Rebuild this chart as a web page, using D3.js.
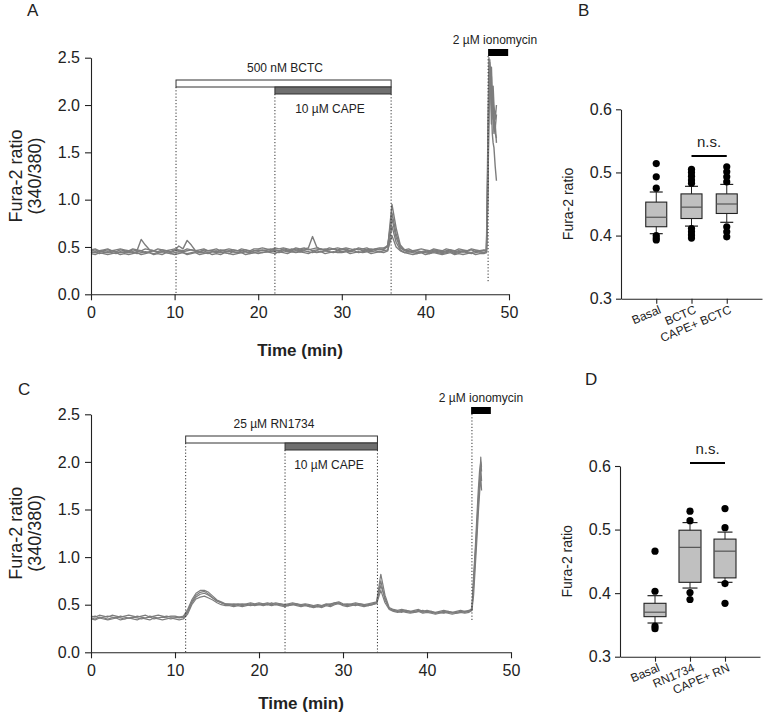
<!DOCTYPE html>
<html><head><meta charset="utf-8">
<script src="https://cdn.jsdelivr.net/npm/d3@7"></script>
<style>
body{margin:0;background:#fff;}
svg{display:block;font-family:Arial,"Liberation Sans",sans-serif;}
</style></head>
<body><svg id="c" width="764" height="713"></svg>
<script>
// ---------------- DATA ----------------
// Panel A time grid (min)
const timeA = [0,0.5,1,1.5,2,2.5,3,3.5,4,4.5,5,5.5,6,6.5,7,7.5,8,8.5,9,9.5,10,10.5,11,11.5,12,12.5,13,13.5,14,14.5,15,15.5,16,16.5,17,17.5,18,18.5,19,19.5,20,20.5,21,21.5,22,22.5,23,23.5,24,24.5,25,25.5,26,26.5,27,27.5,28,28.5,29,29.5,30,30.5,31,31.5,32,32.5,33,33.5,34,34.5,35,35.5,36,36.5,37,37.5,38,38.5,39,39.5,40,40.5,41,41.5,42,42.5,43,43.5,44,44.5,45,45.5,46,46.5,47,
  47.3,47.45,47.6,47.7,47.8,47.9,48.0,48.1,48.2,48.35,48.5];
const traceA1 = [.44,.45,.43,.44,.45,.44,.43,.45,.44,.44, .45,.43,.44,.45,.44,.43,.44,.45,.44,.43, .44,.45,.44,.43,.44,.45,.44,.44,.43,.45, .44,.45,.44,.43,.45,.44,.44,.45,.43,.44,
  .45,.44,.45,.46,.45,.44,.46,.45,.45,.46, .45,.46,.45,.44,.46,.45,.46,.45,.44,.46, .45,.46,.45,.46,.44,.45,.46,.45,.46,.45, .46,.47,.62,.50,.46,.44,.45,.44,.43,.44,
  .44,.43,.45,.44,.43,.44,.45,.43,.44,.45, .44,.43,.44,.45,.44, .45,1.2,2.2,2.45,2.3,2.0,2.15,1.85,1.9,1.7,1.65];
const traceA2 = [.46,.47,.45,.46,.47,.46,.45,.47,.46,.45, .47,.46,.58,.52,.47,.46,.45,.47,.46,.45, .47,.46,.45,.46,.47,.46,.45,.47,.46,.46, .45,.47,.46,.45,.47,.46,.46,.47,.45,.46,
  .47,.46,.47,.48,.47,.46,.48,.47,.46,.48, .47,.48,.49,.61,.50,.47,.48,.47,.48,.47, .48,.47,.46,.48,.47,.48,.47,.46,.48,.47, .48,.50,.95,.70,.52,.47,.46,.45,.46,.45,
  .46,.45,.47,.46,.45,.46,.47,.45,.46,.45, .46,.47,.45,.46,.46, .47,1.5,2.5,2.35,2.1,2.3,1.95,2.1,1.8,1.75,1.9];
const traceA3 = [.45,.44,.46,.45,.44,.46,.45,.44,.45,.46, .44,.45,.46,.44,.45,.46,.44,.45,.46,.44, .46,.51,.48,.57,.52,.46,.45,.46,.44,.45, .46,.44,.45,.46,.45,.44,.46,.45,.44,.46,
  .46,.47,.46,.45,.47,.46,.47,.46,.48,.47, .46,.47,.48,.46,.47,.48,.46,.47,.48,.46, .47,.48,.46,.47,.48,.46,.47,.48,.47,.48, .47,.52,.80,.60,.49,.46,.45,.46,.44,.45,
  .45,.44,.46,.45,.44,.45,.46,.44,.45,.46, .45,.44,.46,.45,.44, .45,.9,1.9,2.2,2.4,2.0,1.7,1.6,1.55,1.35,1.2];
const traceA4 = [.43,.42,.44,.43,.42,.43,.44,.42,.43,.42, .43,.44,.42,.43,.44,.42,.43,.42,.44,.43, .42,.43,.44,.42,.43,.44,.42,.43,.44,.42, .43,.42,.44,.43,.42,.43,.44,.42,.43,.44,
  .43,.44,.45,.44,.43,.45,.44,.43,.45,.44, .45,.44,.43,.45,.44,.45,.43,.44,.45,.44, .44,.45,.43,.44,.45,.44,.45,.43,.44,.45, .44,.46,.72,.55,.47,.44,.43,.42,.43,.44,
  .42,.43,.44,.43,.42,.43,.44,.42,.43,.42, .43,.44,.42,.43,.43, .44,1.3,2.3,2.4,2.15,1.8,2.05,1.9,1.7,1.8,1.6];
const traceA5 = [.47,.48,.46,.47,.48,.46,.47,.48,.47,.46, .48,.47,.46,.48,.47,.46,.48,.47,.46,.47, .48,.47,.46,.48,.47,.46,.47,.48,.46,.47, .48,.46,.47,.48,.47,.46,.48,.47,.46,.48,
  .48,.49,.48,.47,.49,.48,.49,.48,.47,.49, .48,.49,.47,.48,.49,.48,.47,.49,.48,.49, .48,.49,.48,.47,.49,.48,.49,.47,.48,.49, .49,.51,.86,.64,.50,.47,.48,.46,.47,.48,
  .47,.46,.48,.47,.46,.48,.47,.46,.48,.47, .46,.48,.47,.46,.47, .46,1.0,2.0,2.48,2.25,2.4,2.1,2.2,2.0,1.85,2.0];

// Panel C time grid (min)
const timeC = [0,0.5,1,1.5,2,2.5,3,3.5,4,4.5,5,5.5,6,6.5,7,7.5,8,8.5,9,9.5,10,10.5,11,11.5,12,12.5,13,13.5,14,14.5,15,15.5,16,16.5,17,17.5,18,18.5,19,19.5,20,20.5,21,21.5,22,22.5,23,23.5,24,24.5,25,25.5,26,26.5,27,27.5,28,28.5,29,29.5,30,30.5,31,31.5,32,32.5,33,33.5,34,34.5,35,35.5,36,36.5,37,37.5,38,38.5,39,39.5,40,40.5,41,41.5,42,42.5,43,43.5,44,44.5,45,
  45.35,45.55,45.75,45.95,46.1,46.25,46.4,46.5];
const traceC1 = [.36,.35,.37,.36,.35,.36,.37,.36,.35,.36, .37,.36,.35,.36,.37,.35,.36,.37,.36,.35, .36,.37,.36, .42,.52,.58,.61,.62,.60,.57,.54,.52,.51, .50,.49,.50,.49,.50,.51,.50,
  .51,.50,.51,.50,.51,.50,.49,.50,.51,.50, .49,.50,.49,.48,.49,.48,.50,.49,.51,.52, .50,.49,.50,.51,.50,.49,.50,.51, .52,.75,.55,.46, .44,.43,.44,.43,.42,.43,.44,.42,
  .43,.42,.41,.42,.43,.42,.41,.42,.43,.42, .43, .45,.7,1.0,1.3,1.55,1.75,2.05,1.9];
const traceC2 = [.38,.37,.39,.38,.37,.39,.38,.37,.38,.39, .38,.37,.38,.39,.37,.38,.39,.38,.37,.38, .38,.37,.38, .45,.55,.62,.65,.65,.63,.59,.55,.53,.51, .51,.50,.51,.50,.51,.52,.51,
  .52,.51,.52,.51,.52,.51,.50,.51,.52,.51, .50,.51,.50,.49,.50,.49,.51,.50,.52,.53, .51,.50,.51,.52,.51,.50,.51,.52, .53,.82,.60,.47, .45,.44,.45,.44,.43,.44,.45,.43,
  .44,.43,.42,.43,.44,.43,.42,.43,.44,.43, .44, .46,.8,1.1,1.45,1.7,1.9,2.0,1.95];
const traceC3 = [.35,.34,.36,.35,.34,.35,.36,.34,.35,.36, .35,.34,.36,.35,.34,.36,.35,.34,.35,.36, .35,.34,.35, .40,.50,.56,.58,.59,.57,.55,.52,.50,.49, .49,.48,.49,.48,.49,.50,.49,
  .50,.49,.50,.49,.50,.49,.48,.49,.50,.49, .48,.49,.48,.47,.48,.47,.49,.48,.50,.51, .49,.48,.49,.50,.49,.48,.49,.50, .51,.65,.52,.45, .43,.42,.43,.42,.41,.42,.43,.41,
  .42,.41,.40,.41,.42,.41,.40,.41,.42,.41, .42, .44,.6,.9,1.2,1.45,1.65,1.85,1.7];
const traceC4 = [.37,.38,.36,.37,.38,.37,.36,.38,.37,.36, .36,.38,.37,.36,.38,.37,.36,.37,.38,.37, .37,.36,.37, .43,.53,.60,.63,.64,.61,.57,.54,.52,.50, .50,.51,.50,.51,.50,.49,.50,
  .50,.51,.50,.52,.50,.51,.50,.49,.50,.51, .49,.50,.48,.49,.48,.49,.50,.51,.52,.51, .50,.51,.50,.49,.51,.50,.49,.50, .52,.70,.57,.46, .44,.43,.42,.44,.43,.42,.43,.44,
  .42,.43,.41,.42,.41,.43,.42,.41,.42,.43, .43, .45,.75,1.05,1.35,1.6,1.8,1.95,1.8];

// Drug application periods (min)
const eventsA = {bar1:[10.17,35.9], bar2:[22.0,35.9], iono:[47.5,49.9], ionoLine:47.5};
const eventsC = {bar1:[11.27,34.1], bar2:[23.1,34.1], iono:[45.25,47.6], ionoLine:45.35};
const labelsA = ["500 nM BCTC","10 \u00b5M CAPE","2 \u00b5M ionomycin"];
const labelsC = ["25 \u00b5M RN1734","10 \u00b5M CAPE","2 \u00b5M ionomycin"];

const traceTicks = [0,0.5,1.0,1.5,2.0,2.5];
const timeTicks = [0,10,20,30,40,50];
const boxTicks = [0.3,0.4,0.5,0.6];

// Box plots: [whiskerLow, q1, median, q3, whiskerHigh]
const catsB = ["Basal","BCTC","CAPE+ BCTC"];
const boxB = [[0.403,0.414,0.429,0.453,0.469],[0.415,0.427,0.445,0.466,0.478],[0.421,0.435,0.450,0.466,0.481]];
const outB = [[0.514,0.493,0.475,0.400,0.396,0.393],[0.505,0.500,0.494,0.488,0.483,0.411,0.406,0.401,0.396],[0.509,0.501,0.493,0.485,0.414,0.406,0.398]];
const catsD = ["Basal","RN1734","CAPE+ RN"];
const boxD = [[0.353,0.363,0.370,0.384,0.396],[0.408,0.417,0.472,0.499,0.511],[0.417,0.424,0.466,0.485,0.496]];
const outD = [[0.466,0.403,0.348,0.344],[0.529,0.514,0.401,0.390],[0.533,0.503,0.415,0.384]];

// ---------------- DRAW ----------------
const svg = d3.select("#c");
svg.append("rect").attr("width",764).attr("height",713).attr("fill","#fff");
const TXT = "#222", AX = "#222";

function styleAxis(g, fs){
  g.selectAll("path.domain").attr("stroke",AX).attr("stroke-width",1.1);
  g.selectAll(".tick line").attr("stroke",AX).attr("stroke-width",1.1);
  g.selectAll(".tick text").attr("fill",TXT).attr("font-size",fs).attr("font-family","Arial, 'Liberation Sans', sans-serif");
}

function tracePanel(o){
  const x = d3.scaleLinear().domain([0,50]).range([o.x0,o.x1]);
  const y = d3.scaleLinear().domain([0,2.5]).range([o.y0,o.y1]);
  const g = svg.append("g");
  // traces
  const line = d3.line().x(d=>x(d[0])).y(d=>y(d[1]));
  o.traces.forEach(tr=>{
    const pts = o.time.map((t,i)=>[t,tr[i]]).filter(d=>d[1]!==undefined);
    g.append("path").datum(pts).attr("d",line).attr("fill","none")
      .attr("stroke","#7d7d7d").attr("stroke-width",o.sw).attr("stroke-linejoin","round");
  });
  // axes
  const ya = g.append("g").attr("transform",`translate(${o.x0},0)`)
    .call(d3.axisLeft(y).tickValues(traceTicks).tickFormat(d3.format(".1f")).tickSize(6).tickPadding(5).tickSizeOuter(0));
  styleAxis(ya,16);
  const xa = g.append("g").attr("transform",`translate(0,${o.y0})`)
    .call(d3.axisBottom(x).tickValues(timeTicks).tickSize(6).tickPadding(6).tickSizeOuter(0));
  styleAxis(xa,16);
  // events
  const ev = o.events;
  const dot = (t,ya_,yb)=>g.append("line").attr("x1",x(t)).attr("x2",x(t)).attr("y1",ya_).attr("y2",yb)
      .attr("stroke","#333").attr("stroke-width",1).attr("stroke-dasharray","1.2,2");
  dot(ev.bar1[0], o.barY+7, o.y0);
  dot(ev.bar2[0], o.barY+14, o.y0);
  dot(ev.bar1[1], o.barY+14, o.y0);
  dot(ev.ionoLine, o.ionoY+7, o.ionoEnd);
  g.append("rect").attr("x",x(ev.bar1[0])).attr("y",o.barY).attr("width",x(ev.bar1[1])-x(ev.bar1[0])).attr("height",7)
    .attr("fill","#fff").attr("stroke","#333").attr("stroke-width",1);
  g.append("rect").attr("x",x(ev.bar2[0])).attr("y",o.barY+7).attr("width",x(ev.bar2[1])-x(ev.bar2[0])).attr("height",7)
    .attr("fill","#6f6f6f").attr("stroke","#333").attr("stroke-width",1);
  g.append("rect").attr("x",x(ev.iono[0])).attr("y",o.ionoY).attr("width",x(ev.iono[1])-x(ev.iono[0])).attr("height",7)
    .attr("fill","#000");
  const t = (s,xx,yy)=>g.append("text").attr("x",xx).attr("y",yy).attr("text-anchor","middle")
    .attr("font-size",12).attr("fill",TXT).text(s);
  t(o.labels[0], o.lab1x, o.barY-8.5);
  t(o.labels[1], o.lab2x, o.barY+33);
  t(o.labels[2], o.lab3x, o.ionoY-5);
  // axis titles
  const cy = (o.y0+o.y1)/2;
  g.append("text").attr("transform",`translate(22,${cy}) rotate(-90)`).attr("text-anchor","middle")
    .attr("font-size",18).attr("fill",TXT).text("Fura-2 ratio");
  g.append("text").attr("transform",`translate(41,${cy}) rotate(-90)`).attr("text-anchor","middle")
    .attr("font-size",18).attr("fill",TXT).text("(340/380)");
  g.append("text").attr("x",(o.x0+o.x1)/2).attr("y",o.titleY).attr("text-anchor","middle")
    .attr("font-size",17).attr("font-weight","bold").attr("fill",TXT).text("Time (min)");
  g.append("text").attr("x",o.letterX).attr("y",o.letterY).attr("font-size",17).attr("fill",TXT).text(o.letter);
}

tracePanel({x0:91,x1:509,y0:294.3,y1:57.7,time:timeA,traces:[traceA1,traceA2,traceA3,traceA4,traceA5],sw:1.4,
  events:eventsA,labels:labelsA,barY:80,ionoY:49,ionoEnd:282,lab1x:285,lab2x:330,lab3x:495,titleY:356,letter:"A",letterX:27,letterY:16});
tracePanel({x0:91,x1:511,y0:652.3,y1:414.3,time:timeC,traces:[traceC1,traceC2,traceC3,traceC4],sw:1.2,
  events:eventsC,labels:labelsC,barY:436,ionoY:407,ionoEnd:620,lab1x:274,lab2x:329,lab3x:481,titleY:709,letter:"C",letterX:18,letterY:395});

function boxPanel(o){
  const x = d3.scalePoint().domain(o.cats).range([o.x0,o.x1]).padding(1);
  const y = d3.scaleLinear().domain([0.3,0.6]).range([o.y0,o.y1]);
  const g = svg.append("g");
  const bw = o.bw, cw = o.cw;
  o.cats.forEach((c,i)=>{
    const b = o.box[i], cx = x(c);
    g.append("line").attr("x1",cx).attr("x2",cx).attr("y1",y(b[0])).attr("y2",y(b[4])).attr("stroke","#222");
    [b[0],b[4]].forEach(v=>g.append("line").attr("x1",cx-cw/2).attr("x2",cx+cw/2).attr("y1",y(v)).attr("y2",y(v)).attr("stroke","#222").attr("stroke-width",1.2));
    g.append("rect").attr("x",cx-bw/2).attr("y",y(b[3])).attr("width",bw).attr("height",y(b[1])-y(b[3]))
      .attr("fill","#c0c0c0").attr("stroke","#222").attr("stroke-width",1.1);
    g.append("line").attr("x1",cx-bw/2).attr("x2",cx+bw/2).attr("y1",y(b[2])).attr("y2",y(b[2])).attr("stroke","#555").attr("stroke-width",1.2);
    o.out[i].forEach(v=>g.append("circle").attr("cx",cx).attr("cy",y(v)).attr("r",3.6).attr("fill","#000"));
  });
  const ya = g.append("g").attr("transform",`translate(${o.x0},0)`)
    .call(d3.axisLeft(y).tickValues(boxTicks).tickFormat(d3.format(".1f")).tickSize(5).tickPadding(4).tickSizeOuter(0));
  styleAxis(ya,16);
  const xa = g.append("g").attr("transform",`translate(0,${o.y0})`)
    .call(d3.axisBottom(x).tickSize(5).tickSizeOuter(0));
  styleAxis(xa,12);
  xa.selectAll(".tick text").attr("text-anchor","end").attr("dy",null).attr("y",null)
    .attr("transform","translate(5,14) rotate(-23)");
  // n.s.
  g.append("line").attr("x1",x(o.cats[1])).attr("x2",x(o.cats[2])).attr("y1",o.nsY).attr("y2",o.nsY).attr("stroke","#000").attr("stroke-width",2);
  g.append("text").attr("x",(x(o.cats[1])+x(o.cats[2]))/2).attr("y",o.nsY-9).attr("text-anchor","middle")
    .attr("font-size",15).attr("fill",TXT).text("n.s.");
  g.append("text").attr("transform",`translate(${o.titleX},${(o.y0+o.y1)/2}) rotate(-90)`).attr("text-anchor","middle")
    .attr("font-size",14).attr("fill",TXT).text("Fura-2 ratio");
  g.append("text").attr("x",o.letterX).attr("y",o.letterY).attr("font-size",17).attr("fill",TXT).text(o.letter);
}
boxPanel({x0:621,x1:762,y0:298.7,y1:109.3,cats:catsB,box:boxB,out:outB,bw:21,cw:13,nsY:156,titleX:573,letter:"B",letterX:578,letterY:16});
boxPanel({x0:620,x1:760,y0:656.7,y1:466,cats:catsD,box:boxD,out:outD,bw:22,cw:15,nsY:463,titleX:572,letter:"D",letterX:585,letterY:385});
</script></body></html>
